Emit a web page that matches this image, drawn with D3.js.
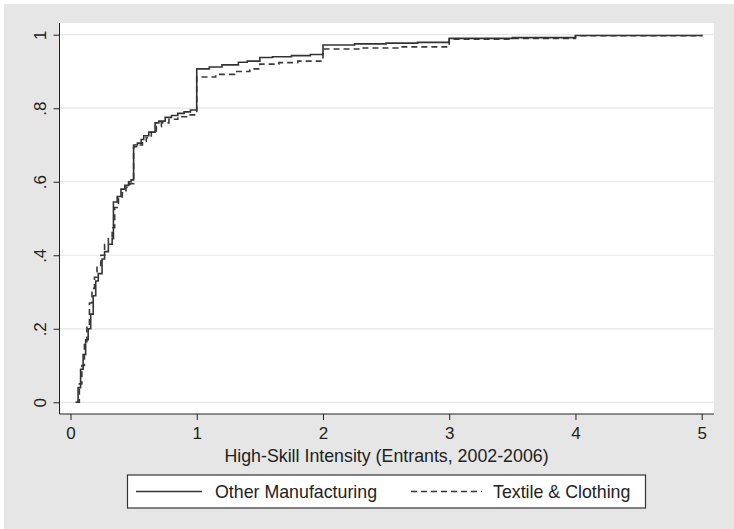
<!DOCTYPE html>
<html>
<head>
<meta charset="utf-8">
<script src="https://d3js.org/d3.v7.min.js"></script>
<style>
  body { margin: 0; background: #fff; }
  text { font-family: "Liberation Sans", Arial, sans-serif; fill: #222; }
</style>
</head>
<body>
<svg id="chart"></svg>
<script>
// Cumulative distributions (step changes)
var otherX = [0.04, 0.06, 0.08, 0.10, 0.12, 0.14, 0.16, 0.18, 0.20, 0.22, 0.25, 0.27, 0.30, 0.33,
  0.34, 0.37, 0.40, 0.43, 0.46, 0.48, 0.50, 0.53, 0.56, 0.58, 0.62, 0.67, 0.70, 0.75, 0.80, 0.85,
  0.90, 0.95, 1.00, 1.10, 1.20, 1.33, 1.40, 1.50, 1.60, 1.75, 1.90, 2.00, 2.25, 2.50, 2.75, 3.00,
  3.50, 4.00, 5.00];
var otherY = [0.00, 0.04, 0.09, 0.13, 0.17, 0.20, 0.24, 0.29, 0.33, 0.35, 0.39, 0.41, 0.43, 0.445,
  0.545, 0.56, 0.58, 0.59, 0.60, 0.605, 0.70, 0.705, 0.715, 0.725, 0.735, 0.76, 0.765, 0.775, 0.78, 0.786,
  0.79, 0.795, 0.907, 0.912, 0.918, 0.925, 0.928, 0.938, 0.94, 0.943, 0.946, 0.972, 0.975, 0.977, 0.979, 0.99,
  0.992, 0.998, 1.00];

var textileX = [0.05, 0.07, 0.09, 0.11, 0.13, 0.15, 0.17, 0.19, 0.21, 0.24, 0.27, 0.30, 0.33,
  0.35, 0.38, 0.41, 0.44, 0.47, 0.50, 0.54, 0.57, 0.60, 0.64, 0.68, 0.72, 0.78, 0.85, 0.92,
  1.00, 1.15, 1.30, 1.42, 1.50, 1.65, 1.80, 2.00, 2.30, 2.60, 3.00, 3.50, 4.00, 5.00];
var textileY = [0.00, 0.05, 0.10, 0.16, 0.21, 0.27, 0.31, 0.34, 0.37, 0.40, 0.43, 0.45, 0.475,
  0.53, 0.555, 0.57, 0.585, 0.595, 0.695, 0.70, 0.71, 0.72, 0.735, 0.75, 0.76, 0.77, 0.777, 0.782,
  0.885, 0.892, 0.90, 0.907, 0.92, 0.924, 0.928, 0.961, 0.964, 0.967, 0.988, 0.99, 0.997, 1.00];

var xTicks = [0, 1, 2, 3, 4, 5];
var yTicks = [0, 0.2, 0.4, 0.6, 0.8, 1];
var yTickLabels = ["0", ".2", ".4", ".6", ".8", "1"];
var seriesNames = ["Other Manufacturing", "Textile & Clothing"];
var xTitle = "High-Skill Intensity (Entrants, 2002-2006)";

var W = 734, H = 529;
var plot = {left: 59.5, right: 714, top: 23, bottom: 414};

var svg = d3.select("#chart").attr("width", W).attr("height", H);

svg.append("rect").attr("x", 0).attr("y", 0).attr("width", W).attr("height", H).attr("fill", "#fff");
svg.append("rect").attr("x", 4).attr("y", 4).attr("width", W - 4).attr("height", H - 4).attr("fill", "#e6e6e6");
svg.append("rect")
  .attr("x", plot.left).attr("y", plot.top)
  .attr("width", plot.right - plot.left).attr("height", plot.bottom - plot.top)
  .attr("fill", "#fff");

var x = d3.scaleLinear().domain([0, 5]).range([70.5, 701.7]);
var y = d3.scaleLinear().domain([0, 1]).range([402.3, 34.7]);

// gridlines
svg.append("g")
  .selectAll("line")
  .data(yTicks)
  .enter().append("line")
    .attr("x1", plot.left).attr("x2", plot.right)
    .attr("y1", function(d) { return y(d); })
    .attr("y2", function(d) { return y(d); })
    .attr("stroke", "#e6e6e6")
    .attr("stroke-width", 1.2);

// axes
var yAxis = d3.axisLeft(y)
  .tickValues(yTicks)
  .tickSize(6)
  .tickPadding(0)
  .tickFormat(function(d, i) { return yTickLabels[i]; });

var gy = svg.append("g")
  .attr("transform", "translate(" + plot.left + ",0)")
  .call(yAxis);
gy.select(".domain").attr("d", "M0," + plot.top + "V" + plot.bottom).attr("stroke", "#222");
gy.selectAll(".tick line").attr("stroke", "#222");
gy.selectAll(".tick text")
  .attr("x", null).attr("dy", null)
  .attr("text-anchor", "middle")
  .attr("transform", "translate(-14,0) rotate(-90)")
  .attr("font-size", "17px")
  .attr("fill", "#222");

var xAxis = d3.axisBottom(x)
  .tickValues(xTicks)
  .tickSize(6)
  .tickPadding(7)
  .tickFormat(d3.format("d"));

var gx = svg.append("g")
  .attr("transform", "translate(0," + plot.bottom + ")")
  .call(xAxis);
gx.select(".domain").attr("d", "M" + plot.left + ",0H" + plot.right).attr("stroke", "#222");
gx.selectAll(".tick line").attr("stroke", "#222");
gx.selectAll(".tick text")
  .attr("font-size", "17px")
  .attr("fill", "#222");

svg.append("text")
  .attr("x", (224 + 549) / 2)
  .attr("y", 462)
  .attr("text-anchor", "middle")
  .attr("font-size", "17.8px")
  .text(xTitle);

// curves
var line = d3.line()
  .x(function(d) { return x(d[0]); })
  .y(function(d) { return y(d[1]); })
  .curve(d3.curveStepAfter);

var otherData = d3.zip(otherX, otherY);
var textileData = d3.zip(textileX, textileY);

svg.append("path")
  .datum(textileData)
  .attr("d", line)
  .attr("fill", "none")
  .attr("stroke", "#3a3a3a")
  .attr("stroke-width", 1.6)
  .attr("stroke-dasharray", "6,4");

svg.append("path")
  .datum(otherData)
  .attr("d", line)
  .attr("fill", "none")
  .attr("stroke", "#333")
  .attr("stroke-width", 1.6);

// legend
var legend = svg.append("g");
legend.append("rect")
  .attr("x", 127.5).attr("y", 475)
  .attr("width", 518).attr("height", 33)
  .attr("fill", "#fff")
  .attr("stroke", "#333")
  .attr("stroke-width", 1.2);

legend.append("line")
  .attr("x1", 136).attr("x2", 202).attr("y1", 491.5).attr("y2", 491.5)
  .attr("stroke", "#333").attr("stroke-width", 1.4);
legend.append("text")
  .attr("x", 215).attr("y", 498)
  .attr("font-size", "17.8px")
  .text(seriesNames[0]);

legend.append("line")
  .attr("x1", 411).attr("x2", 482).attr("y1", 491.5).attr("y2", 491.5)
  .attr("stroke", "#333").attr("stroke-width", 1.4)
  .attr("stroke-dasharray", "6,4");
legend.append("text")
  .attr("x", 493).attr("y", 498)
  .attr("font-size", "17.8px")
  .text(seriesNames[1]);
</script>
</body>
</html>
